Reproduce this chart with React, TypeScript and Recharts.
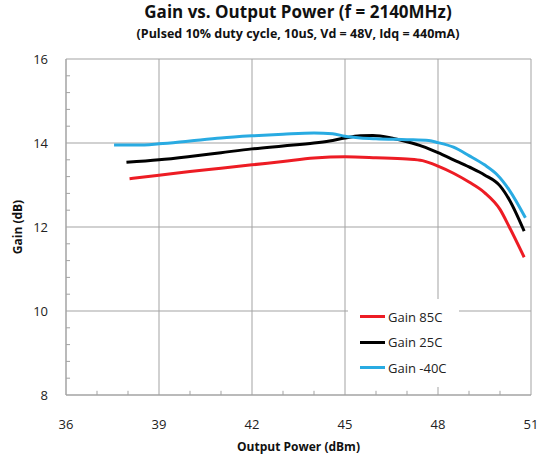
import React from 'react';
import { LineChart, Line, XAxis, YAxis, CartesianGrid, ReferenceLine } from 'recharts';

// Output power (dBm) / gain (dB)
const power85 = [38.05, 39, 40, 41, 42, 43, 44, 45, 46, 47, 47.5, 48, 48.5, 49, 49.5, 50, 50.3, 50.78];
const gain85 = [13.15, 13.23, 13.32, 13.4, 13.48, 13.56, 13.64, 13.67, 13.65, 13.62, 13.58, 13.45, 13.28, 13.07, 12.82, 12.42, 12.0, 11.28];

const power25 = [37.95, 39, 40, 41, 42, 43, 44, 44.5, 45, 45.5, 45.9, 46.5, 47, 47.5, 48, 48.5, 49, 49.5, 50, 50.3, 50.78];
const gain25 = [13.54, 13.6, 13.68, 13.77, 13.86, 13.93, 14.0, 14.05, 14.12, 14.17, 14.18, 14.12, 14.03, 13.92, 13.77, 13.6, 13.43, 13.24, 12.98, 12.65, 11.9];

const powerM40 = [37.55, 38.3, 39, 40, 41, 42, 43, 44, 44.6, 45, 45.5, 46, 47, 47.7, 48, 48.5, 49, 49.5, 49.9, 50.3, 50.82];
const gainM40 = [13.95, 13.95, 13.98, 14.05, 14.12, 14.17, 14.21, 14.24, 14.22, 14.16, 14.12, 14.1, 14.08, 14.06, 14.01, 13.9, 13.7, 13.48, 13.25, 12.88, 12.22];

const xTicks = [36, 39, 42, 45, 48, 51];
const xMinorTicks = [37, 38, 40, 41, 43, 44, 46, 47, 49, 50];
const yTicks = [8, 10, 12, 14, 16];
const yMinorTicks = [8.4, 8.8, 9.2, 9.6, 10.4, 10.8, 11.2, 11.6, 12.4, 12.8, 13.2, 13.6, 14.4, 14.8, 15.2, 15.6];

const toPoints = (xs: number[], ys: number[]) => xs.map((p, i) => ({ power: p, gain: ys[i] }));

const series = [
  { name: 'Gain 85C', color: '#ed1c24', data: toPoints(power85, gain85) },
  { name: 'Gain 25C', color: '#000000', data: toPoints(power25, gain25) },
  { name: 'Gain -40C', color: '#29abe2', data: toPoints(powerM40, gainM40) },
];

const FONT = '"Open Sans", sans-serif';
const GRID = '#a3a3a3';

export default function App() {
  // placed at the page corner so the body margin doesn't push it into scrollbars
  return (
    <div style={{ position: 'absolute', left: 0, top: 0, width: 539, height: 459, overflow: 'hidden', background: '#fff' }}>
      <div style={{ position: 'absolute', left: 0, top: 2, width: 596, textAlign: 'center', fontFamily: FONT, fontWeight: 700, fontSize: 17, lineHeight: '20px', color: '#111' }}>
        Gain vs. Output Power (f = 2140MHz)
      </div>
      <div style={{ position: 'absolute', left: 0, top: 26, width: 596, textAlign: 'center', fontFamily: FONT, fontWeight: 700, fontSize: 12.5, lineHeight: '16px', color: '#111' }}>
        (Pulsed 10% duty cycle, 10uS, Vd = 48V, Idq = 440mA)
      </div>
      <LineChart width={539} height={459} margin={{ top: 59, right: 8, bottom: 8, left: 26 }}>
        <CartesianGrid stroke={GRID} strokeWidth={1} />
        <XAxis
          dataKey="power"
          type="number"
          domain={[36, 51]}
          ticks={xTicks}
          allowDataOverflow
          height={56}
          tickLine={false}
          tickMargin={19}
          axisLine={{ stroke: GRID }}
          tick={{ fontFamily: FONT, fontSize: 13, fill: '#222' }}
          label={{ value: 'Output Power (dBm)', position: 'insideBottom', offset: 0, style: { fontFamily: FONT, fontSize: 12, fontWeight: 700, fill: '#111' } }}
        />
        <YAxis
          type="number"
          domain={[8, 16]}
          ticks={yTicks}
          allowDataOverflow
          width={40}
          tickLine={false}
          tickMargin={12}
          axisLine={{ stroke: GRID }}
          tick={{ fontFamily: FONT, fontSize: 13, fill: '#222' }}
          label={{ value: 'Gain (dB)', angle: -90, position: 'insideLeft', offset: -8, style: { fontFamily: FONT, fontSize: 12, fontWeight: 700, fill: '#111', textAnchor: 'middle' } }}
        />
        {/* minor tick marks, pointing into the plot */}
        {xMinorTicks.map((t) => (
          <ReferenceLine key={`xm${t}`} segment={[{ x: t, y: 8 }, { x: t, y: 8.1 }]} stroke={GRID} />
        ))}
        {yMinorTicks.map((t) => (
          <ReferenceLine key={`ym${t}`} segment={[{ x: 36, y: t }, { x: 36.13, y: t }]} stroke={GRID} />
        ))}
        {series.map((s) => (
          <Line
            key={s.name}
            data={s.data}
            dataKey="gain"
            name={s.name}
            type="monotone"
            stroke={s.color}
            strokeWidth={3}
            dot={false}
            isAnimationActive={false}
          />
        ))}
      </LineChart>
      <div style={{ position: 'absolute', left: 348, top: 299, background: '#fff', padding: '5px 12px 6px 12px', fontFamily: FONT, fontSize: 13, color: '#222' }}>
        {series.map((s) => (
          <div key={s.name} style={{ display: 'flex', alignItems: 'center', height: 25.5 }}>
            <span style={{ display: 'inline-block', width: 25, height: 3, background: s.color, marginRight: 3 }} />
            <span>{s.name}</span>
          </div>
        ))}
      </div>
    </div>
  );
}
